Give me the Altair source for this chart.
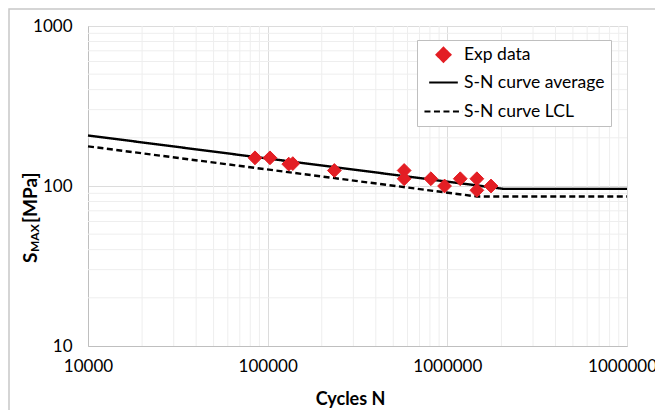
import altair as alt
import pandas as pd

# ---- data ----
exp_N = [85000, 103000, 131000, 138000, 235000, 575000, 575000, 810000, 965000, 1180000, 1460000, 1460000, 1750000]
exp_S = [150, 150, 137, 138, 125, 125, 111, 111, 100, 111, 111, 94, 100]

avg_N = [10000, 2050000, 10000000]
avg_S = [207, 96, 96]

lcl_N = [10000, 1460000, 10000000]
lcl_S = [177, 86, 86]

series = ["Exp data", "S-N curve average", "S-N curve LCL"]

x_major = [10000, 100000, 1000000, 10000000]
y_major = [10, 100, 1000]
x_minor = [20000, 30000, 40000, 50000, 60000, 70000, 80000, 90000,
           200000, 300000, 400000, 500000, 600000, 700000, 800000, 900000,
           2000000, 3000000, 4000000, 5000000, 6000000, 7000000, 8000000, 9000000]
y_minor = [20, 30, 40, 50, 60, 70, 80, 90, 200, 300, 400, 500, 600, 700, 800, 900]

FONT = "Lato"

exp_df = pd.DataFrame({"N": exp_N, "S": exp_S, "series": series[0]})
line_df = pd.concat([
    pd.DataFrame({"N": avg_N, "S": avg_S, "series": series[1]}),
    pd.DataFrame({"N": lcl_N, "S": lcl_S, "series": series[2]}),
])

xs = alt.Scale(type="log", domain=[10000, 10000000], nice=False)
ys = alt.Scale(type="log", domain=[10, 1000], nice=False)

legend = alt.Legend(
    title=None, orient="none", legendX=329, legendY=14,
    fillColor="white", strokeColor="#bfbfbf", padding=6,
    labelFont=FONT, labelFontSize=17.5, labelColor="#000000",
    symbolStrokeWidth=2.2, rowPadding=0, labelOffset=0, symbolOpacity=1,
)

fill_sc = alt.Scale(domain=series, range=["#e31e24", "transparent", "transparent"])
stroke_sc = alt.Scale(domain=series, range=["#e31e24", "#000000", "#000000"])
shape_sc = alt.Scale(domain=series, range=["diamond", "stroke", "stroke"])
size_sc = alt.Scale(domain=series, range=[190, 1450, 1450])
dash_sc = alt.Scale(domain=series, range=[[1, 0], [1, 0], [6, 3.5]])

# minor grid
gx = alt.Chart(pd.DataFrame({"N": x_minor})).mark_rule(color="#eeeeee", strokeWidth=1).encode(
    x=alt.X("N:Q", scale=xs))
gy = alt.Chart(pd.DataFrame({"S": y_minor})).mark_rule(color="#eeeeee", strokeWidth=1).encode(
    y=alt.Y("S:Q", scale=ys))

lines = alt.Chart(line_df).mark_line(strokeWidth=2.4).encode(
    x=alt.X("N:Q", scale=xs, axis=alt.Axis(
        values=x_major, format="d", title="Cycles N", grid=True, gridColor="#dcdcdc",
        ticks=False, labelFlush=False, labelOverlap=False, labelBound=False,
        labelPadding=12, titleX=262, titleY=53, titleAnchor="start",
        titleAlign="center", titleBaseline="middle")),
    y=alt.Y("S:Q", scale=ys, axis=alt.Axis(
        values=y_major, format="d", title=None, grid=True, gridColor="#dcdcdc",
        ticks=False, labelPadding=16)),
    stroke=alt.Stroke("series:N", scale=stroke_sc, legend=legend),
    strokeDash=alt.StrokeDash("series:N", scale=dash_sc, legend=legend),
    detail="series:N",
)

points = alt.Chart(exp_df).mark_point(opacity=1, strokeWidth=1).encode(
    x=alt.X("N:Q", scale=xs),
    y=alt.Y("S:Q", scale=ys),
    fill=alt.Fill("series:N", scale=fill_sc, legend=legend),
    stroke=alt.Stroke("series:N", scale=stroke_sc, legend=legend),
    shape=alt.Shape("series:N", scale=shape_sc, legend=legend),
    size=alt.Size("series:N", scale=size_sc, legend=legend),
)

one = pd.DataFrame({"a": [0]})
frame = alt.Chart(one).mark_rect(fill="transparent", stroke="#c8c8c8", strokeWidth=1.5).encode(
    x=alt.value(-79), x2=alt.value(700), y=alt.value(-17), y2=alt.value(500))

t_s = alt.Chart(one).mark_text(angle=270, align="left", baseline="middle", font=FONT,
                               fontSize=19, fontWeight="bold", color="#000").encode(
    x=alt.value(-57), y=alt.value(237), text=alt.value("S"))
t_max = alt.Chart(one).mark_text(angle=270, align="left", baseline="middle", font=FONT,
                                 fontSize=12, fontWeight="bold", color="#000").encode(
    x=alt.value(-53), y=alt.value(226), text=alt.value("MAX"))
t_mpa = alt.Chart(one).mark_text(angle=270, align="left", baseline="middle", font=FONT,
                                 fontSize=19, fontWeight="bold", color="#000").encode(
    x=alt.value(-57), y=alt.value(197), text=alt.value("[MPa]"))

chart = alt.layer(frame, gx, gy, lines, points, t_s, t_max, t_mpa).properties(
    width=539, height=320,
    autosize=alt.AutoSizeParams(type="none"),
    padding={"left": 80, "top": 18, "right": 28, "bottom": 64},
).configure_view(stroke="#d0d0d0").configure_axis(
    labelFont=FONT, labelFontSize=17, labelColor="#000000",
    titleFont=FONT, titleFontSize=18, titleFontWeight="bold", titleColor="#000000",
    domainColor="#bfbfbf",
)

chart.save("out.html", embed_options={"renderer": "svg", "actions": False})
